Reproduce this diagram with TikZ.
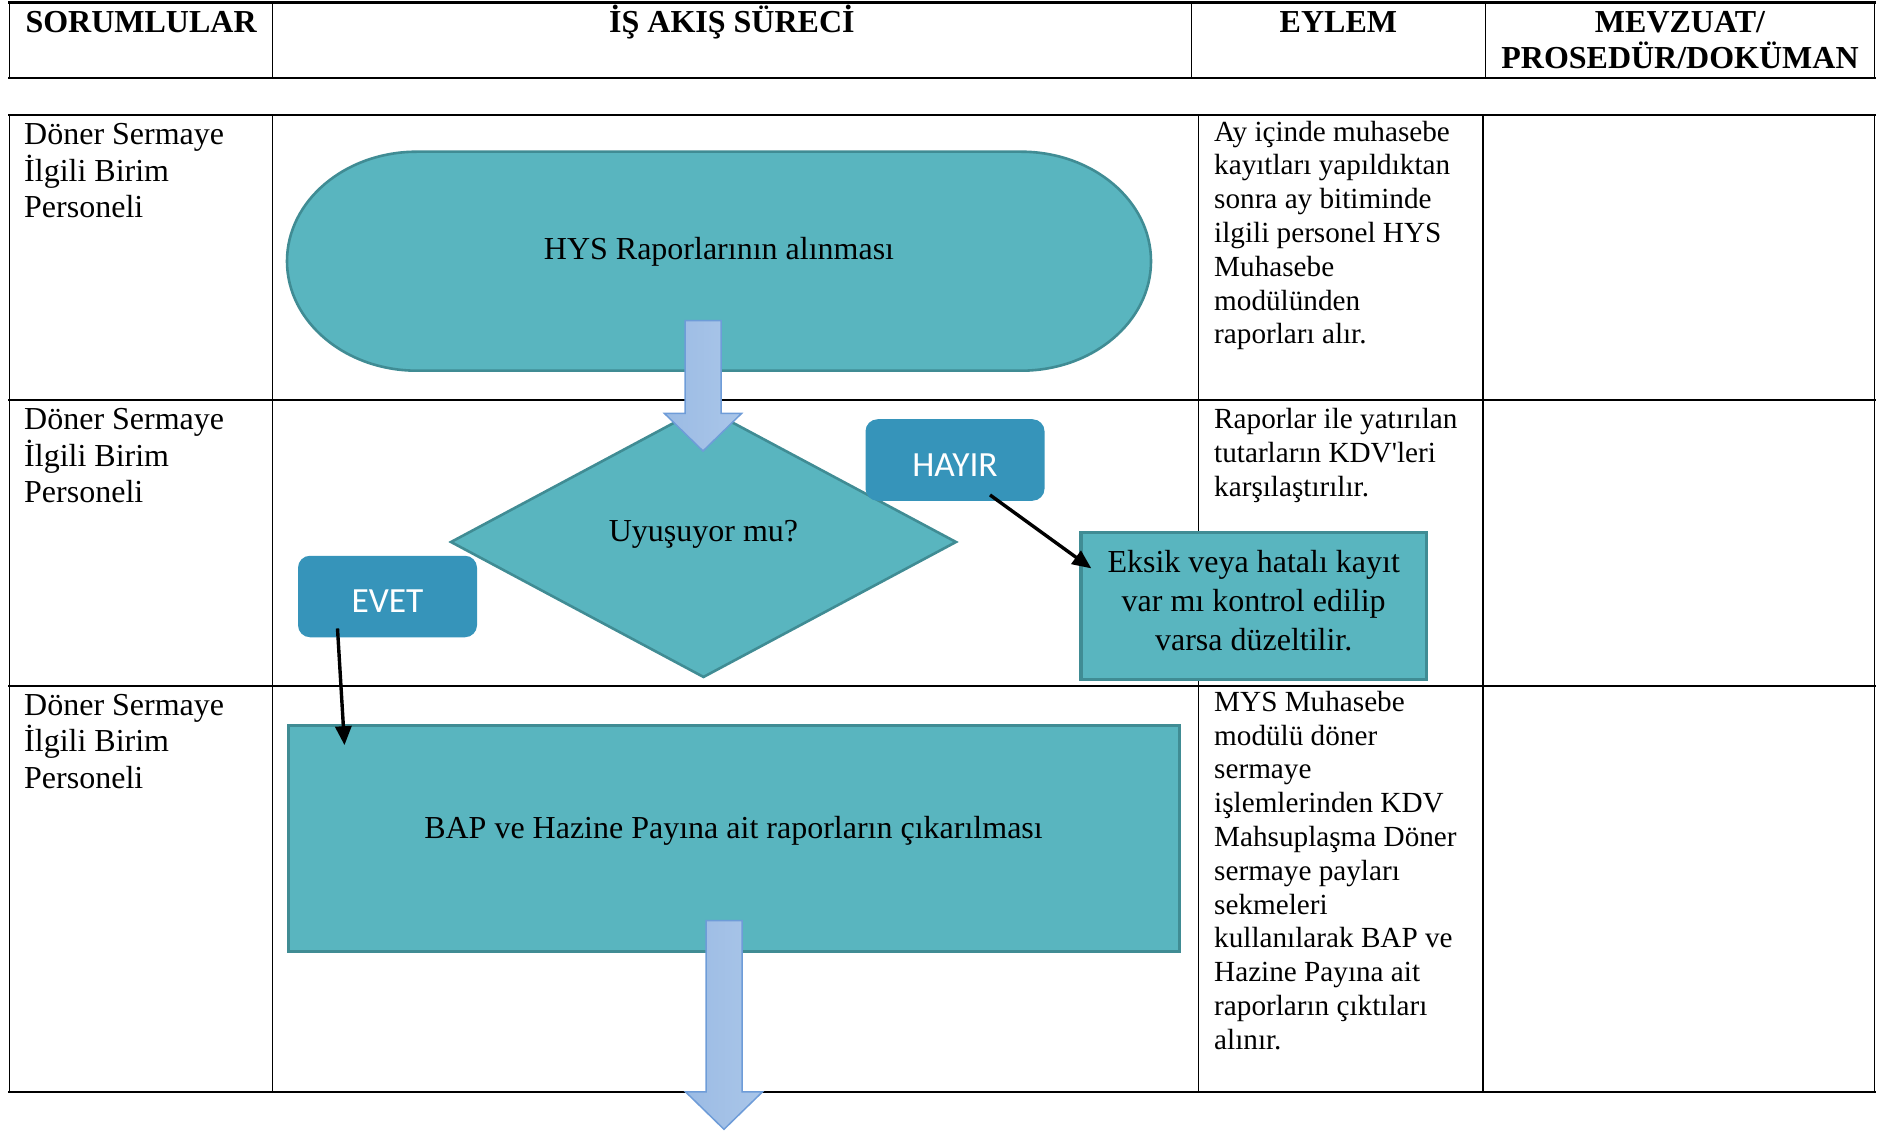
\documentclass[tikz,border=0pt]{standalone}
\usepackage{fontspec}
\setmainfont{Liberation Serif}
\newfontfamily\nomapserif{Liberation Serif}[Ligatures=TeXOff]
\newfontfamily\calfont{Carlito}
\usetikzlibrary{shapes.geometric,arrows.meta}
\definecolor{tealfill}{RGB}{89,181,191}
\definecolor{tealline}{RGB}{64,140,148}
\definecolor{lblblue}{RGB}{54,148,186}
\definecolor{barfillL}{RGB}{155,187,228}
\definecolor{barfillR}{RGB}{170,198,233}
\definecolor{barline}{RGB}{110,156,216}
\newcommand\hstrut{\rule{0pt}{32pt}}
\newcommand\rstrut{\rule{0pt}{30pt}}
\newcommand\estrut{\rule{0pt}{26pt}}
\newcommand\blockdown[2]{\draw[blockarrow] ([shift={(-18,0)}]#1) -- ([shift={(18,0)}]#1) -- ([shift={(18,-37.5)}]#2) -- ([shift={(38.5,-37.5)}]#2) -- (#2) -- ([shift={(-38.5,-37.5)}]#2) -- ([shift={(-18,-37.5)}]#2) -- cycle;}
\begin{document}
\begin{tikzpicture}[x=1pt,y=-1pt,
  gridh/.style={line width=2.2pt},
  gridv/.style={line width=1.3pt},
  hdr/.style={anchor=north,inner sep=0pt,align=center,font=\fontsize{32}{36}\selectfont\bfseries},
  resp/.style={anchor=north west,inner sep=0pt,align=left,font=\fontsize{32}{36.5}\selectfont},
  act/.style={anchor=north west,inner sep=0pt,align=left,font=\fontsize{29.2}{33.8}\selectfont},
  flowbox/.style={draw=tealline,fill=tealfill,line width=2.6pt,inner sep=0pt,font=\fontsize{32}{38}\selectfont},
  lbl/.style={fill=lblblue,rounded corners=12pt,inner sep=0pt,text=white,font=\calfont\fontsize{35.4}{40}\selectfont,minimum width=179pt,minimum height=81.5pt,text depth=0pt},
  conn/.style={line width=3.4pt,-{Triangle[length=19pt,width=16pt]}},
  blockarrow/.style={draw=barline,line width=1.5pt,left color=barfillL,right color=barfillR},
]
\useasboundingbox (0,0) rectangle (1883,1131);

% header table
\draw[gridh] (8.4,2.5) -- (1875.8,2.5);
\draw[gridh] (8.4,77.7) -- (1875.8,77.7);
\foreach \x in {9.6,272.6,1191.3,1485.5,1874.6} \draw[gridv] (\x,2.5) -- (\x,77.7);

% main table
\foreach \y in {115,400,685.7,1091.7} \draw[gridh] (8.4,\y) -- (1875.8,\y);
\foreach \x in {9.6,272.6,1198.5,1483,1874.6} \draw[gridv] (\x,115) -- (\x,1091.7);

% header texts
\node[hdr] (h1) at (141.1,0) {\hstrut SORUMLULAR};
\node[hdr] (h2) at (731.9,0) {\hstrut İŞ AKIŞ SÜRECİ};
\node[hdr] (h3) at (1338.4,0) {\hstrut EYLEM};
\node[hdr] (h4) at (1680,0) {\hstrut MEVZUAT/\\PROSEDÜR/DOKÜMAN};

% responsible column
\node[resp] (r1) at (24,114.5) {\rstrut Döner Sermaye\\İlgili Birim\\Personeli};
\node[resp] (r2) at (24,399.5) {\rstrut Döner Sermaye\\İlgili Birim\\Personeli};
\node[resp] (r3) at (24,685.2) {\rstrut Döner Sermaye\\İlgili Birim\\Personeli};

% action column
\node[act] (e1) at (1214,115) {\estrut Ay içinde muhasebe\\kayıtları yapıldıktan\\sonra ay bitiminde\\ilgili personel HYS\\Muhasebe\\modülünden\\raporları alır.};
\node[act] (e2) at (1214,402.3) {\estrut Raporlar ile yatırılan\\tutarların KDV{\nomapserif '}leri\\karşılaştırılır.};
\node[act] (e3) at (1214,685) {\estrut MYS Muhasebe\\modülü döner\\sermaye\\işlemlerinden KDV\\Mahsuplaşma Döner\\sermaye payları\\sekmeleri\\kullanılarak BAP ve\\Hazine Payına ait\\raporların çıktıları\\alınır.};

% terminal
\path[draw=tealline,fill=tealfill,line width=2.6pt] (417,151.7) -- (1021,151.7)
  arc[start angle=90,end angle=-90,x radius=130pt,y radius=109.5pt] -- (417,370.7)
  arc[start angle=270,end angle=90,x radius=130pt,y radius=109.5pt] -- cycle;
\node[inner sep=0pt,minimum width=864pt,minimum height=219pt,text height=10pt,text depth=12.4pt,font=\fontsize{32}{38}\selectfont] (term) at (719,261.2) {HYS Raporlarının alınması};

% decision
\node[flowbox,diamond,minimum width=506pt,minimum height=271pt,text height=10pt,text depth=12pt] (dec) at (703.5,542) {Uyuşuyor mu?};

% block arrow 1
\coordinate (a1top) at (703,320.6);
\coordinate (a1tip) at (703,451);
\blockdown{a1top}{a1tip}

% labels
\node[lbl,text height=33.4pt] (hayir) at (955,460) {HAYIR};
\node[lbl,text height=31.6pt] (evet) at (387.5,596.5) {EVET};

% correction box
\node[flowbox,line width=3.2pt,minimum width=345.5pt,minimum height=147pt,align=center,font=\fontsize{32}{39.2}\selectfont] (eksik) at (1253.7,605.8) {\rstrut Eksik veya hatalı kayıt\\var mı kontrol edilip\\varsa düzeltilir.\rule[-19pt]{0pt}{0pt}};

% BAP box
\node[flowbox,line width=3pt,minimum width=891pt,minimum height=226pt,text height=10pt,text depth=10pt] (bap) at (733.5,838) {BAP ve Hazine Payına ait raporların çıkarılması};

% block arrow 2
\coordinate (a2top) at (724,920.7);
\coordinate (a2tip) at (724,1129.3);
\blockdown{a2top}{a2tip}

% connectors
\draw[conn] ([shift={(35,-6)}]hayir.south) -- ([shift={(12,37.7)}]eksik.north west);
\draw[conn] ([shift={(-50,-9)}]evet.south) -- ([shift={(58,21.7)}]bap.north west);
\end{tikzpicture}
\end{document}
